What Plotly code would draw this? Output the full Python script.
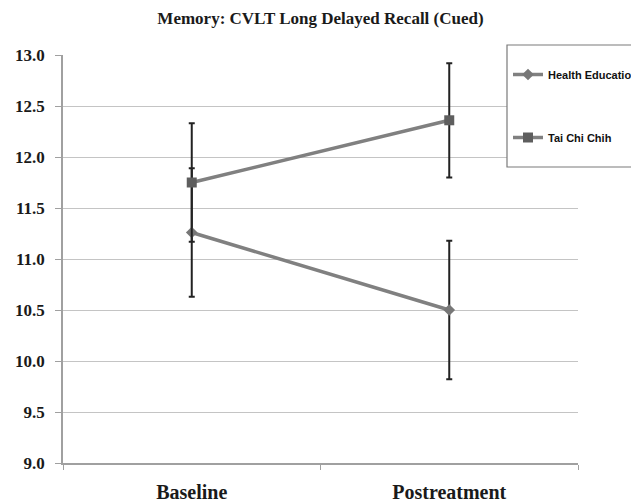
import plotly.graph_objects as go

categories = ["Baseline", "Postreatment"]
health_edu = [11.26, 10.50]
health_edu_err = [0.63, 0.68]
tai_chi = [11.75, 12.36]
tai_chi_err = [0.58, 0.56]
y_ticks = [9.0, 9.5, 10.0, 10.5, 11.0, 11.5, 12.0, 12.5, 13.0]

xpos = [0.5, 1.5]

fig = go.Figure()
fig.add_trace(go.Scatter(
    x=xpos, y=health_edu, name="Health Education", mode="lines+markers",
    line=dict(color="#808080", width=3.5),
    marker=dict(symbol="diamond", size=9, color="#777777"),
    error_y=dict(type="data", array=health_edu_err, color="#222222", thickness=2, width=3),
    legendgroup="a",
))
fig.add_trace(go.Scatter(
    x=xpos, y=tai_chi, name="Tai Chi Chih", mode="lines+markers",
    line=dict(color="#808080", width=3.5),
    marker=dict(symbol="square", size=10, color="#5e5e5e"),
    error_y=dict(type="data", array=tai_chi_err, color="#222222", thickness=2, width=3),
    legendgroup="b",
))

fig.update_layout(
    width=631, height=503,
    margin=dict(l=63, r=53, t=55, b=40, autoexpand=False),
    paper_bgcolor="white", plot_bgcolor="white",
    title=dict(text="<b>Memory: CVLT Long Delayed Recall (Cued)</b>",
               x=(63 + 578) / 2 / 631, xanchor="center", y=1 - 18 / 503, yanchor="middle",
               font=dict(family="Liberation Serif", size=17, color="#1a1a1a")),
    showlegend=True,
    legend=dict(x=(508 - 63) / 515, xanchor="left", y=(463 - 60) / 408, yanchor="top",
                bgcolor="white", bordercolor="rgba(0,0,0,0)", borderwidth=0,
                font=dict(family="Liberation Sans", size=11, color="#111111", weight="bold"),
                tracegroupgap=44, itemwidth=30, traceorder="grouped"),
    xaxis=dict(range=[0, 2], tickvals=xpos, ticktext=["<b>%s</b>" % c for c in categories],
               ticks="outside", ticklen=10, tickcolor="rgba(0,0,0,0)",
               showgrid=False, zeroline=False, showline=True, linecolor="#a0a0a0", linewidth=1.5,
               tickfont=dict(family="Liberation Serif", size=20, color="#1a1a1a"),
               minor=dict(tickvals=[0, 1, 2], ticks="outside", ticklen=5, tickcolor="#a0a0a0", showgrid=False)),
    yaxis=dict(range=[9, 13], tickvals=y_ticks, ticktext=["<b>%.1f</b>" % v for v in y_ticks],
               ticks="outside", ticklen=6, tickcolor="#a0a0a0", ticklabelstandoff=7,
               showgrid=True, gridcolor="#c4c4c4", gridwidth=1.2, zeroline=False,
               showline=True, linecolor="#a0a0a0", linewidth=1.5,
               tickfont=dict(family="Liberation Serif", size=17, color="#1a1a1a")),
    shapes=[dict(type="rect", xref="paper", yref="paper",
                 x0=(507 - 63) / 515, x1=(640 - 63) / 515,
                 y0=(463 - 167) / 408, y1=(463 - 45) / 408,
                 line=dict(color="#7a7a7a", width=1.2), fillcolor="white", layer="above")],
)

fig.write_html("out.html", config={"displayModeBar": False},
               post_script="document.body.style.margin='0';")
